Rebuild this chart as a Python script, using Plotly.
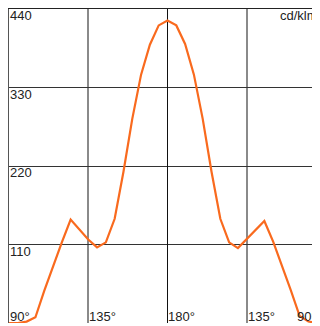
import plotly.graph_objects as go

# polar intensity curve, one point every 5 degrees
angles = list(range(-90, 95, 5))
intensity = [0, 0, 2, 8, 45, 80, 113, 145, 131, 117, 106, 113, 146, 212, 286, 348, 390, 417,
             424,
             417, 391, 348, 286, 212, 146, 113, 105, 118, 131, 143, 114, 81, 46, 10, 2, 0, 0]

x_ticks = [-90, -45, 0, 45, 90]
x_labels = ["90°", "135°", "180°", "135°", "90°"]
y_ticks = [110, 220, 330, 440]
y_labels = ["110", "220", "330", "440"]
unit = "cd/klm"

font = dict(family="Liberation Sans, Arial, sans-serif", size=13, color="#222")

fig = go.Figure()
fig.add_trace(go.Scatter(
    x=angles, y=intensity, mode="lines",
    line=dict(color="#F96A1E", width=2.2),
    cliponaxis=False, hoverinfo="skip"
))

annotations = []
for v, t in zip(x_ticks, x_labels):
    if v == x_ticks[-1]:
        # last label sits against the right edge and runs off it
        annotations.append(dict(x=1, xref="paper", y=0, yref="y", text=t, showarrow=False,
                                xanchor="right", yanchor="bottom", xshift=-1, yshift=-3, font=font))
    else:
        annotations.append(dict(x=v, xref="x", y=0, yref="y", text=t, showarrow=False,
                                xanchor="left", yanchor="bottom", xshift=-1, yshift=-3, font=font))
for v, t in zip(y_ticks, y_labels):
    annotations.append(dict(x=0, xref="paper", y=v, yref="y", text=t, showarrow=False,
                            xanchor="left", yanchor="top", xshift=-1, yshift=3, font=font))
annotations.append(dict(x=1, xref="paper", y=440, yref="y", text=unit, showarrow=False,
                        xanchor="right", yanchor="top", xshift=0, yshift=3, font=font))

fig.update_layout(
    width=312, height=315,
    margin=dict(l=1, r=0, t=1, b=0),
    paper_bgcolor="white", plot_bgcolor="white",
    showlegend=False,
    annotations=annotations,
    xaxis=dict(range=[-90, 86.6], tickvals=x_ticks, showticklabels=False, ticks="",
               showgrid=True, gridcolor="#8a8a8a", gridwidth=1.5,
               zeroline=True, zerolinecolor="#111", zerolinewidth=1,
               showline=True, linecolor="#222", linewidth=1, mirror=True),
    yaxis=dict(range=[0, 440], tickvals=y_ticks, showticklabels=False, ticks="",
               showgrid=True, gridcolor="#333", gridwidth=1,
               zeroline=False,
               showline=True, linecolor="#555", linewidth=1),
)

fig.write_html("out.html")
